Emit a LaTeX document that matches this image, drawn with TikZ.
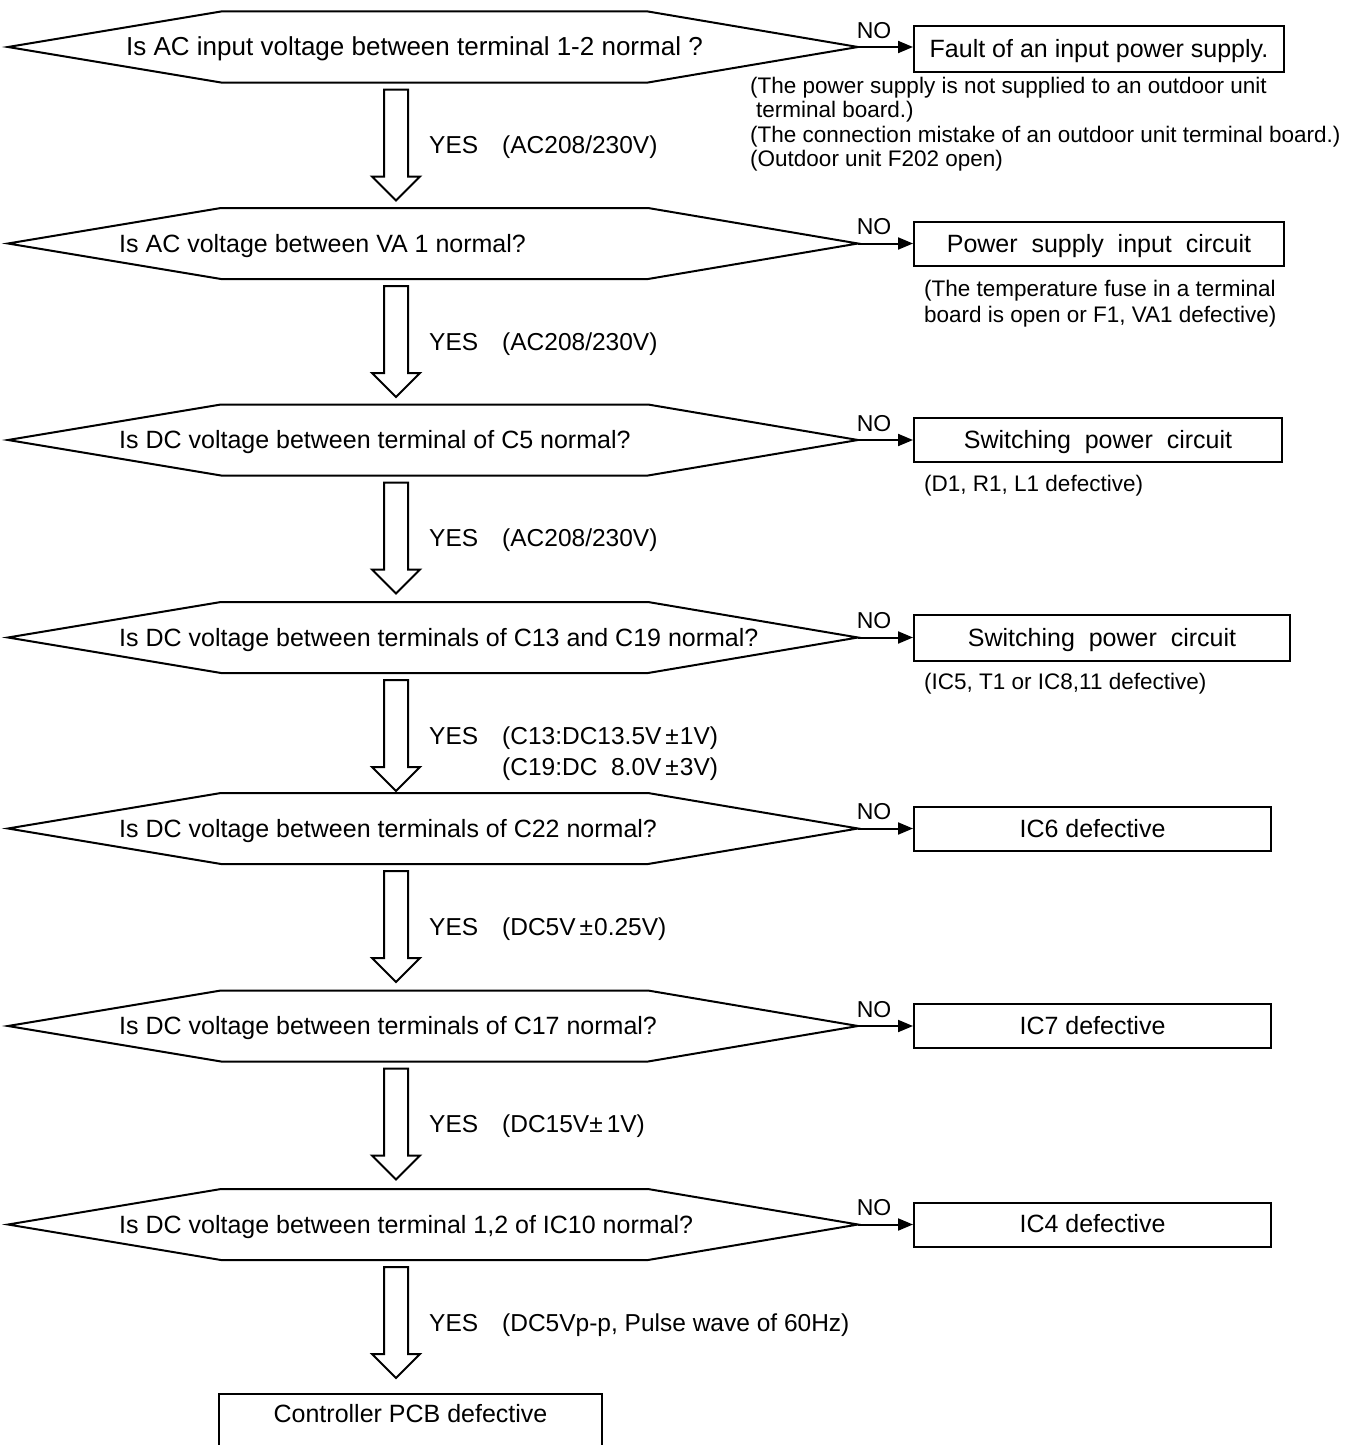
\documentclass[tikz,border=0pt]{standalone}
\usepackage{fontspec}
\setmainfont{Liberation Sans}
\usetikzlibrary{calc,arrows.meta}
\tikzset{
 hexline/.style={line width=2pt, line join=miter},
 qtext/.style={anchor=base west, inner sep=0pt, font=\fontsize{25}{30}\selectfont},
 fbox/.style={draw, line width=2pt, inner sep=0pt, text height=18pt, text depth=2pt, font=\fontsize{25}{30}\selectfont},
 note/.style={anchor=base west, inner sep=0pt, font=\fontsize{22.5}{27}\selectfont},
 yes/.style={anchor=base west, inner sep=0pt, font=\fontsize{24.5}{29}\selectfont},
 nolab/.style={anchor=base, inner sep=0pt, font=\fontsize{23}{28}\selectfont},
 noarrow/.style={line width=2pt, -{Triangle[length=15pt,width=12pt]}},
 barrow/.style={line width=2pt, fill=white, line join=miter},
}
\newcommand\hexq[4]{%
  \coordinate (#1) at (433,#2);
  \coordinate (#1-L) at (8,#2);
  \coordinate (#1-R) at (858,#2);
  \coordinate (#1-T) at (396,#2-35.5);
  \coordinate (#1-B) at (396,#2+35.5);
  \draw[hexline] (#1-L) -- (221,#2-35.5) -- (648,#2-35.5) -- (#1-R) -- (648,#2+35.5) -- (221,#2+35.5) -- cycle;
  \node[qtext] (#1-txt) at (#4,#2+8.5) {#3};
}
\newcommand\blockarr[1]{%
  \draw[barrow] ($(#1-B)+(-12,7)$) -- ($(#1-B)+(-12,94)$) -- ($(#1-B)+(-24,94)$) -- ($(#1-B)+(0,118)$) -- ($(#1-B)+(24,94)$) -- ($(#1-B)+(12,94)$) -- ($(#1-B)+(12,7)$) -- cycle;
}
\begin{document}
\begin{tikzpicture}[x=1pt,y=-1pt]
\fill[white] (0,0) rectangle (1349,1445);
\useasboundingbox (0,0) rectangle (1349,1445);

\hexq{h1}{47}{\fontsize{26}{30}\selectfont Is AC input voltage between terminal 1-2 normal ?}{126}
\hexq{h2}{243.5}{Is AC voltage between VA 1 normal?}{119}
\hexq{h3}{440}{Is DC voltage between terminal of C5 normal?}{119}
\hexq{h4}{637.5}{Is DC voltage between terminals of C13 and C19 normal?}{119}
\hexq{h5}{828.5}{Is DC voltage between terminals of C22 normal?}{119}
\hexq{h6}{1026}{Is DC voltage between terminals of C17 normal?}{119}
\hexq{h7}{1224.5}{Is DC voltage between terminal 1,2 of IC10 normal?}{119}

% result boxes
\node[fbox, minimum width=370pt, minimum height=46pt] (b1) at (1099,49) {Fault of an input power supply.};
\node[fbox, minimum width=370pt, minimum height=44pt] (b2) at (1099,244) {Power\ \ supply\ \ input\ \ circuit};
\node[fbox, minimum width=368pt, minimum height=44pt] (b3) at (1098,440) {Switching\ \ power\ \ circuit};
\node[fbox, minimum width=376pt, minimum height=46pt] (b4) at (1102,638) {Switching\ \ power\ \ circuit};
\node[fbox, minimum width=357pt, minimum height=44pt] (b5) at (1092.5,829) {IC6 defective};
\node[fbox, minimum width=357pt, minimum height=44pt] (b6) at (1092.5,1026) {IC7 defective};
\node[fbox, minimum width=357pt, minimum height=44pt] (b7) at (1092.5,1224.5) {IC4 defective};

% NO connectors
\foreach \i in {1,...,7}{
  \draw[noarrow] (h\i-R) -- (h\i-R -| b\i.west);
  \node[nolab] (no\i) at ($(h\i-R)+(16,-9)$) {NO};
}

% notes
\node[note] (n1a) at (750,93) {(The power supply is not supplied to an outdoor unit};
\node[note] (n1b) at (756,117.5) {terminal board.)};
\node[note] (n1c) at (750,142) {(The connection mistake of an outdoor unit terminal board.)};
\node[note] (n1d) at (750,166.5) {(Outdoor unit F202 open)};
\node[note] (n2a) at (924,296) {(The temperature fuse in a terminal};
\node[note] (n2b) at (924,322) {board is open or F1, VA1 defective)};
\node[note] (n3) at (924,491) {(D1, R1, L1 defective)};
\node[note] (n4) at (924,689) {(IC5, T1 or IC8,11 defective)};

% YES block arrows
\blockarr{h1}
\blockarr{h2}
\blockarr{h3}
\blockarr{h4}
\blockarr{h5}
\blockarr{h6}
\blockarr{h7}

\node[yes] (y1) at (429,153.5) {YES};
\node[yes] (v1) at (502,153.5) {(AC208/230V)};
\node[yes] (y2) at (429,350) {YES};
\node[yes] (v2) at (502,350) {(AC208/230V)};
\node[yes] (y3) at (429,546.5) {YES};
\node[yes] (v3) at (502,546.5) {(AC208/230V)};
\node[yes] (y4) at (429,744) {YES};
\node[yes] (v4) at (502,744) {(C13:DC13.5V\hspace{4pt}±\hspace{1pt}1V)};
\node[yes] (v4b) at (502,775) {(C19:DC\ \ 8.0V\hspace{4pt}±\hspace{1pt}3V)};
\node[yes] (y5) at (429,935) {YES};
\node[yes] (v5) at (502,935) {(DC5V\hspace{4pt}±\hspace{1pt}0.25V)};
\node[yes] (y6) at (429,1132.5) {YES};
\node[yes] (v6) at (502,1132.5) {(DC15V±\hspace{4pt}1V)};
\node[yes] (y7) at (429,1331) {YES};
\node[yes] (v7) at (502,1331) {(DC5Vp-p, Pulse wave of 60Hz)};

% final box (cut off at the bottom)
\node[draw=none, minimum width=383pt, minimum height=40pt, anchor=north, inner sep=0pt,
      text height=18pt, text depth=2pt, font=\fontsize{25}{30}\selectfont] (fin) at (410.5,1394) {Controller PCB defective};
\draw[line width=2pt] ([yshift=-30pt]fin.south west) -- (fin.north west) -- (fin.north east) -- ([yshift=-30pt]fin.south east);
\end{tikzpicture}
\end{document}
